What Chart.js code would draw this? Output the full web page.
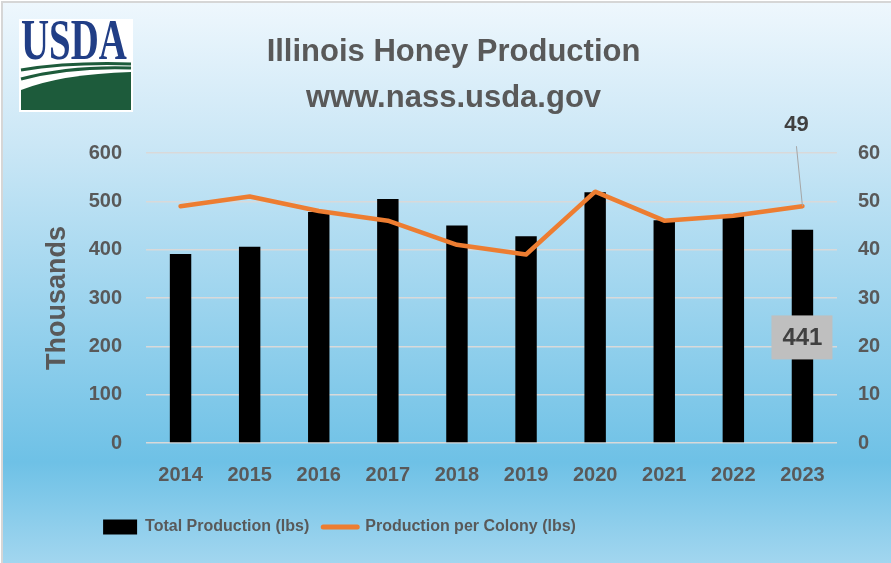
<!DOCTYPE html>
<html>
<head>
<meta charset="utf-8">
<script src="https://cdn.jsdelivr.net/npm/chart.js@4.4.1/dist/chart.umd.min.js"></script>
<style>
  html, body { margin: 0; padding: 0; background: #fff; }
  #wrap { width: 891px; height: 563px; position: relative; }
</style>
</head>
<body>
<div id="wrap"><canvas id="c" width="891" height="563"></canvas></div>
<script>
const years = ['2014','2015','2016','2017','2018','2019','2020','2021','2022','2023'];
const totalProduction = [391, 406, 478, 505, 450, 428, 519, 461, 470, 441]; // thousands of lbs
const perColony = [49, 51, 48, 46, 41, 39, 52, 46, 47, 49]; // lbs
const leftTicks = [0, 100, 200, 300, 400, 500, 600];
const rightTicks = [0, 10, 20, 30, 40, 50, 60];
const titleLines = ['Illinois Honey Production', 'www.nass.usda.gov'];
const seriesNames = ['Total Production (lbs)', 'Production per Colony (lbs)'];

const GRAY = '#595959';

const bgPlugin = {
  id: 'bg',
  beforeDraw(chart) {
    const ctx = chart.ctx;
    ctx.save();
    ctx.fillStyle = '#ffffff';
    ctx.fillRect(0, 0, 891, 563);
    const g = ctx.createLinearGradient(0, 3, 0, 563);
    g.addColorStop(0, '#EEF7FD');
    g.addColorStop(0.25, '#CBE7F6');
    g.addColorStop(0.82, '#6EC1E6');
    g.addColorStop(1, '#A2D6EF');
    ctx.fillStyle = g;
    ctx.fillRect(3, 3, 888, 560);
    ctx.fillStyle = '#D6D6D6';
    ctx.fillRect(1, 1, 890, 2);
    ctx.fillRect(1, 1, 2, 562);
    // USDA logo
    ctx.fillStyle = '#ffffff';
    ctx.fillRect(19, 19, 114, 93);
    ctx.save();
    ctx.translate(21, 59);
    ctx.scale(0.72, 1.05);
    ctx.fillStyle = '#213E86';
    ctx.font = 'bold 54px "Liberation Serif"';
    ctx.textBaseline = 'alphabetic';
    ctx.fillText('USDA', 0, 0);
    ctx.restore();
    ctx.fillStyle = '#1D5B3B';
    ctx.beginPath();
    ctx.moveTo(21, 110); ctx.lineTo(21, 90);
    ctx.quadraticCurveTo(62, 74, 131, 72);
    ctx.lineTo(131, 110); ctx.closePath(); ctx.fill();
    ctx.strokeStyle = '#1D5B3B';
    ctx.lineWidth = 3;
    ctx.beginPath(); ctx.moveTo(21, 70); ctx.quadraticCurveTo(70, 62, 131, 64); ctx.stroke();
    ctx.beginPath(); ctx.moveTo(21, 79); ctx.quadraticCurveTo(70, 66, 131, 68); ctx.stroke();
    ctx.restore();
  }
};

const shiftPlugin = {
  id: 'shift',
  afterLayout(chart) {
    if (chart.legend) { chart.legend.left -= 106; chart.legend.right -= 106; }
    if (chart.titleBlock) { chart.titleBlock.left += 8; chart.titleBlock.right += 8; }
  }
};

const labelPlugin = {
  id: 'labels',
  afterDatasetsDraw(chart) {
    const ctx = chart.ctx;
    const xs = chart.scales.x, y = chart.scales.y, y1 = chart.scales.y1;
    const i = years.length - 1;
    ctx.save();
    const px = xs.getPixelForValue(i), py = y1.getPixelForValue(perColony[i]);
    ctx.strokeStyle = '#A6A6A6';
    ctx.lineWidth = 1;
    ctx.beginPath(); ctx.moveTo(px - 6, py - 60); ctx.lineTo(px, py); ctx.stroke();
    ctx.fillStyle = '#404040';
    ctx.font = 'bold 22px "Liberation Sans"';
    ctx.textAlign = 'center';
    ctx.textBaseline = 'middle';
    ctx.fillText(String(perColony[i]), px - 6, py - 81);
    const by = (y.getPixelForValue(totalProduction[i]) + y.getPixelForValue(0)) / 2 + 1;
    ctx.fillStyle = '#BFBFBF';
    ctx.fillRect(px - 31, by - 22, 61, 44);
    ctx.fillStyle = '#404040';
    ctx.font = 'bold 24px "Liberation Sans"';
    ctx.fillText(String(totalProduction[i]), px, by + 1);
    ctx.restore();
  }
};

const tickFont = { family: '"Liberation Sans"', size: 20, weight: 'bold' };

new Chart(document.getElementById('c'), {
  data: {
    labels: years,
    datasets: [
      {
        type: 'bar', label: seriesNames[0], data: totalProduction, yAxisID: 'y',
        backgroundColor: '#000000', borderWidth: 0,
        categoryPercentage: 1, barPercentage: 0.31, order: 1
      },
      {
        type: 'line', label: seriesNames[1], data: perColony, yAxisID: 'y1',
        borderColor: '#ED7D31', backgroundColor: '#ED7D31', borderWidth: 4.5,
        pointRadius: 0, tension: 0, borderCapStyle: 'round', borderJoinStyle: 'round', order: 0
      }
    ]
  },
  options: {
    responsive: false,
    animation: false,
    layout: { padding: { left: 0, right: 0, top: 0, bottom: 18 } },
    plugins: {
      tooltip: { enabled: false },
      title: {
        display: true, text: titleLines, color: GRAY,
        font: { family: '"Liberation Sans"', size: 31, weight: 'bold', lineHeight: 1.484 },
        padding: { top: 29, bottom: 32 }
      },
      legend: {
        position: 'bottom',
        labels: {
          color: GRAY,
          font: { family: '"Liberation Sans"', size: 16, weight: 'bold' },
          usePointStyle: true, pointStyleWidth: 34, boxHeight: 15, padding: 14,
          sort: (a, b) => a.datasetIndex - b.datasetIndex,
          generateLabels(chart) {
            return chart.data.datasets.map((ds, i) => ({
              text: ds.label,
              fillStyle: ds.type === 'bar' ? '#000000' : '#ED7D31',
              strokeStyle: ds.type === 'bar' ? '#000000' : '#ED7D31',
              lineWidth: ds.type === 'bar' ? 0 : 5,
              pointStyle: ds.type === 'bar' ? 'rect' : 'line',
              lineCap: 'round',
              fontColor: GRAY,
              datasetIndex: i, hidden: false
            }));
          }
        }
      }
    },
    scales: {
      x: {
        grid: { display: false, drawTicks: false },
        border: { display: false },
        ticks: { color: GRAY, padding: 20, maxRotation: 0, font: tickFont },
        afterFit(s) { s.height = 62; }
      },
      y: {
        position: 'left', min: 0, max: 600,
        afterBuildTicks(s) { s.ticks = leftTicks.map(v => ({ value: v })); },
        grid: { color: '#D9D9D9', lineWidth: 1.5, drawTicks: false },
        border: { display: false },
        ticks: { color: GRAY, padding: 24, font: tickFont },
        title: { display: true, text: 'Thousands', color: GRAY,
          font: { family: '"Liberation Sans"', size: 27, weight: 'bold' },
          padding: { top: 41, bottom: 0 } },
        afterFit(s) { s.width = 146; }
      },
      y1: {
        position: 'right', min: 0, max: 60,
        afterBuildTicks(s) { s.ticks = rightTicks.map(v => ({ value: v })); },
        grid: { display: false, drawTicks: false },
        border: { display: false },
        ticks: { color: GRAY, padding: 21, font: tickFont },
        afterFit(s) { s.width = 54; }
      }
    }
  },
  plugins: [bgPlugin, shiftPlugin, labelPlugin]
});
</script>
</body>
</html>
